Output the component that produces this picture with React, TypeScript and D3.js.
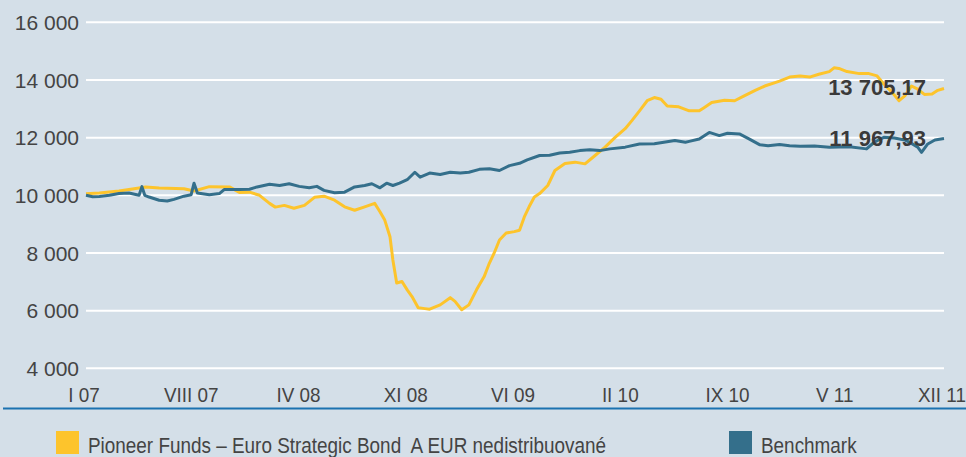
import * as d3 from 'd3';
import React, { useEffect, useRef } from 'react';

const fundDates = [
  '2007-01-01', '2007-01-29', '2007-03-11', '2007-05-06', '2007-06-03', '2007-07-25', '2007-08-15',
  '2007-09-16', '2007-10-28', '2007-11-18', '2007-12-09', '2007-12-30', '2008-01-20', '2008-02-01',
  '2008-02-20', '2008-03-11', '2008-04-02', '2008-04-23', '2008-05-13', '2008-06-04', '2008-06-25',
  '2008-07-16', '2008-08-06', '2008-08-27', '2008-09-07', '2008-09-17', '2008-09-28', '2008-10-04',
  '2008-10-12', '2008-10-23', '2008-11-03', '2008-11-13', '2008-11-26', '2008-12-10', '2008-12-20',
  '2009-01-11', '2009-02-01', '2009-02-11', '2009-02-25', '2009-03-12', '2009-03-28', '2009-04-13',
  '2009-04-24', '2009-05-04', '2009-05-15', '2009-05-29', '2009-06-15', '2009-06-26', '2009-07-06',
  '2009-07-16', '2009-07-27', '2009-08-07', '2009-08-24', '2009-09-08', '2009-09-29', '2009-10-20',
  '2009-11-10', '2009-12-01', '2009-12-22', '2010-01-12', '2010-02-02', '2010-02-16', '2010-03-04',
  '2010-03-20', '2010-04-04', '2010-04-18', '2010-05-01', '2010-05-25', '2010-06-16', '2010-07-07',
  '2010-07-17', '2010-08-02', '2010-08-29', '2010-09-19', '2010-10-09', '2010-11-01', '2010-11-21',
  '2010-12-22', '2011-01-12', '2011-02-03', '2011-02-23', '2011-03-14', '2011-04-05', '2011-04-15',
  '2011-04-25', '2011-05-12', '2011-06-07', '2011-06-27', '2011-07-14', '2011-07-28', '2011-08-15',
  '2011-08-29', '2011-09-10', '2011-09-24', '2011-10-07', '2011-10-21', '2011-11-06', '2011-11-18',
  '2011-12-01',
];
const fundValues = [
  10050, 10080, 10150, 10290, 10250, 10230, 10150,
  10300, 10290, 10100, 10110, 10000, 9720, 9590,
  9650, 9550, 9650, 9930, 9970, 9830, 9600,
  9480, 9600, 9720, 9430, 9140, 8560, 7760,
  6960, 7010, 6720, 6490, 6100, 6070, 6050,
  6200, 6450, 6320, 6030, 6200, 6720, 7180,
  7650, 8000, 8450, 8690, 8740, 8790, 9250,
  9600, 9940, 10060, 10340, 10860, 11100, 11150,
  11090, 11380, 11670, 12010, 12310, 12590, 12930,
  13280, 13390, 13330, 13100, 13070, 12930, 12930,
  13040, 13220, 13300, 13280, 13450, 13640, 13790,
  13960, 14100, 14140, 14100, 14200, 14290, 14420,
  14400, 14290, 14220, 14220, 14140, 13860, 13560,
  13280, 13450, 13790, 13680, 13500, 13510, 13640,
  13705.17,
];

const benchDates = [
  '2007-01-01', '2007-01-15', '2007-01-29', '2007-02-19', '2007-03-11', '2007-04-01', '2007-04-22',
  '2007-04-28', '2007-05-04', '2007-05-13', '2007-06-03', '2007-06-20', '2007-07-04', '2007-07-25',
  '2007-08-09', '2007-08-15', '2007-08-22', '2007-09-16', '2007-10-07', '2007-10-17', '2007-11-18',
  '2007-12-09', '2007-12-25', '2008-01-20', '2008-02-10', '2008-03-01', '2008-03-22', '2008-04-12',
  '2008-04-28', '2008-05-13', '2008-06-04', '2008-06-25', '2008-07-16', '2008-08-06', '2008-08-21',
  '2008-09-07', '2008-09-21', '2008-10-04', '2008-10-18', '2008-11-03', '2008-11-19', '2008-11-30',
  '2008-12-20', '2009-01-11', '2009-02-01', '2009-02-22', '2009-03-12', '2009-04-03', '2009-04-24',
  '2009-05-15', '2009-06-05', '2009-06-26', '2009-07-12', '2009-08-07', '2009-08-28', '2009-09-18',
  '2009-10-09', '2009-10-30', '2009-11-20', '2009-12-11', '2010-01-01', '2010-02-02', '2010-03-04',
  '2010-04-04', '2010-05-17', '2010-06-08', '2010-06-16', '2010-07-07', '2010-07-28', '2010-08-18',
  '2010-09-04', '2010-09-29', '2010-10-20', '2010-11-11', '2010-11-28', '2010-12-22', '2011-01-12',
  '2011-02-03', '2011-03-05', '2011-04-05', '2011-05-17', '2011-06-22', '2011-07-08', '2011-07-28',
  '2011-08-19', '2011-09-10', '2011-09-24', '2011-10-07', '2011-10-15', '2011-10-28', '2011-11-12',
  '2011-12-01',
];
const benchValues = [
  10000, 9950, 9960, 10000, 10060, 10080, 10000,
  10300, 10000, 9940, 9830, 9800, 9860, 9970,
  10020, 10420, 10080, 10020, 10060, 10200, 10200,
  10210, 10290, 10380, 10340, 10400, 10310, 10260,
  10310, 10170, 10090, 10110, 10290, 10340, 10400,
  10260, 10420, 10340, 10420, 10540, 10800, 10630,
  10770, 10720, 10800, 10770, 10800, 10900, 10920,
  10860, 11030, 11110, 11230, 11380, 11390, 11470,
  11490, 11550, 11580, 11550, 11610, 11670, 11780,
  11790, 11900, 11840, 11870, 11950, 12180, 12070,
  12150, 12130, 11950, 11750, 11720, 11760, 11720,
  11700, 11710, 11670, 11680, 11610, 11840, 12010,
  11990, 11920, 11800, 11670, 11490, 11780, 11920,
  11967.93,
];

const xTickLabels = ['I 07', 'VIII 07', 'IV 08', 'XI 08', 'VI 09', 'II 10', 'IX 10', 'V 11', 'XII 11'];
const yTicks = [4000, 6000, 8000, 10000, 12000, 14000, 16000];
const seriesNames = ['Pioneer Funds – Euro Strategic Bond  A EUR nedistribuované', 'Benchmark'];
const seriesColors = ['#fdc42c', '#346f8b'];

const width = 966;
const height = 457;
const margin = { top: 22, right: 22, bottom: 89, left: 86 };

export default function App() {
  const ref = useRef<SVGSVGElement>(null);

  useEffect(() => {
    document.body.style.margin = '0';
    const svg = d3.select(ref.current);
    svg.selectAll('*').remove();

    const parse = d3.timeParse('%Y-%m-%d');
    const fund = fundDates.map((d, i) => ({ date: parse(d) as Date, value: fundValues[i] }));
    const bench = benchDates.map((d, i) => ({ date: parse(d) as Date, value: benchValues[i] }));

    const x = d3
      .scaleTime()
      .domain([fund[0].date, fund[fund.length - 1].date])
      .range([margin.left, width - margin.right]);
    const y = d3
      .scaleLinear()
      .domain([4000, 16000])
      .range([height - margin.bottom + 0.3, margin.top + 0.3]);

    const locale = d3.formatLocale({ decimal: ',', thousands: '\u00a0', grouping: [3], currency: ['', ' €'] });
    const fmtTick = locale.format(',.0f');
    const fmtValue = locale.format(',.2f');

    svg.append('rect').attr('width', width).attr('height', height).attr('fill', '#d4dfe8');

    // grid + y labels
    const grid = svg.append('g');
    grid
      .selectAll('line')
      .data(yTicks)
      .join('line')
      .attr('x1', margin.left)
      .attr('x2', width - margin.right)
      .attr('y1', (d) => y(d))
      .attr('y2', (d) => y(d))
      .attr('stroke', '#fff')
      .attr('stroke-width', 2);
    grid
      .selectAll('text')
      .data(yTicks)
      .join('text')
      .attr('x', 79)
      .attr('y', (d) => y(d))
      .attr('dy', '0.36em')
      .attr('text-anchor', 'end')
      .attr('font-family', 'Liberation Sans, Arial, sans-serif')
      .attr('font-size', 21)
      .attr('fill', '#444')
      .text((d) => fmtTick(d));

    // x labels, evenly spaced across the period
    const [t0, t1] = x.domain().map((d) => +d);
    const xTickDates = xTickLabels.map((_, i) => new Date(t0 + ((t1 - t0) * i) / (xTickLabels.length - 1)));
    svg
      .append('g')
      .selectAll('text')
      .data(xTickLabels)
      .join('text')
      .attr('transform', (_, i) => `translate(${x(xTickDates[i]) - 2},401.5) scale(0.9,1)`)
      .attr('text-anchor', 'middle')
      .attr('font-family', 'Liberation Sans, Arial, sans-serif')
      .attr('font-size', 21)
      .attr('fill', '#444')
      .text((d) => d);

    svg
      .append('line')
      .attr('x1', 3)
      .attr('x2', width)
      .attr('y1', 408.5)
      .attr('y2', 408.5)
      .attr('stroke', '#1b72b0')
      .attr('stroke-width', 2);

    const line = d3
      .line<{ date: Date; value: number }>()
      .x((d) => x(d.date))
      .y((d) => y(d.value));

    [fund, bench].forEach((s, i) => {
      svg
        .append('path')
        .datum(s)
        .attr('fill', 'none')
        .attr('stroke', seriesColors[i])
        .attr('stroke-width', 3)
        .attr('stroke-linejoin', 'round')
        .attr('d', line);
    });

    // end value labels
    [fund, bench].forEach((s) => {
      const last = s[s.length - 1];
      svg
        .append('text')
        .attr('x', x(last.date) - 18)
        .attr('y', y(last.value) + 7)
        .attr('text-anchor', 'end')
        .attr('font-family', 'Liberation Sans, Arial, sans-serif')
        .attr('font-weight', 'bold')
        .attr('font-size', 22)
        .attr('fill', '#3a3a3a')
        .text(fmtValue(last.value));
    });

    // legend
    const legendX = [56, 729];
    const legend = svg
      .append('g')
      .selectAll('g')
      .data(seriesNames)
      .join('g')
      .attr('transform', (_, i) => `translate(${legendX[i]},431)`);
    legend
      .append('rect')
      .attr('width', 23)
      .attr('height', 23)
      .attr('fill', (_, i) => seriesColors[i]);
    legend
      .append('text')
      .attr('transform', 'translate(32,22) scale(0.86,1)')
      .style('white-space', 'pre')
      .attr('font-family', 'Liberation Sans, Arial, sans-serif')
      .attr('font-size', 22)
      .attr('fill', '#444')
      .text((d) => d);
  }, []);

  return <svg ref={ref} width={width} height={height} style={{ display: 'block' }} />;
}
